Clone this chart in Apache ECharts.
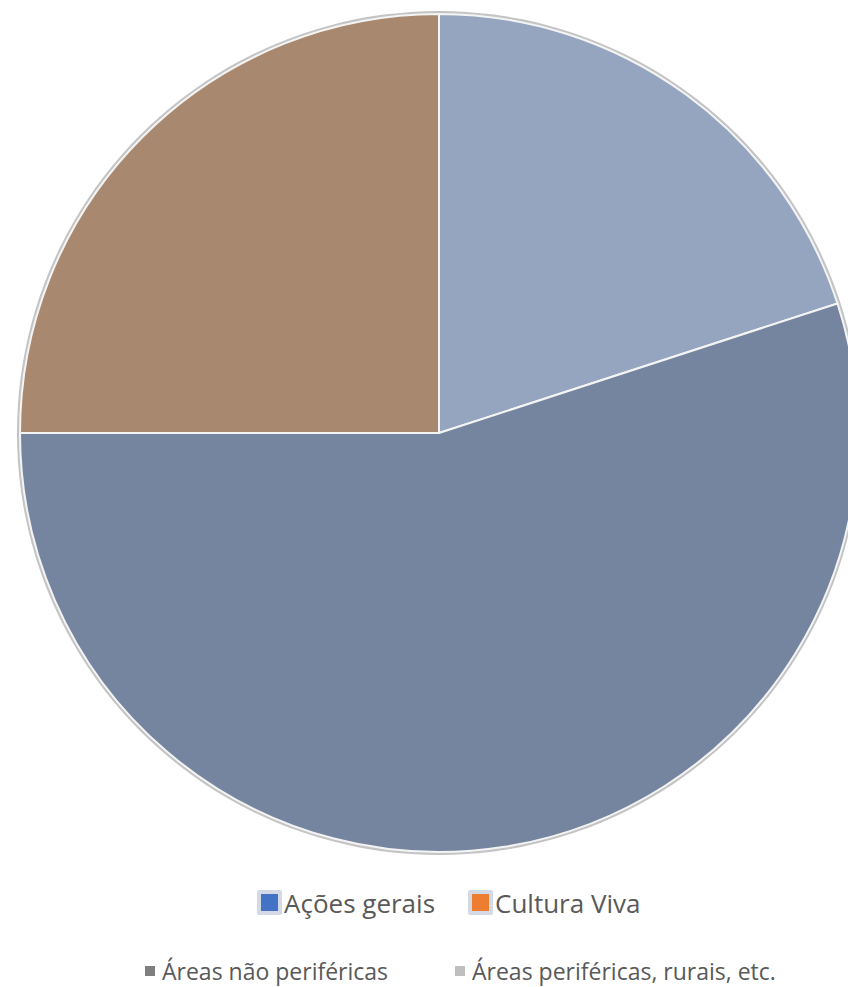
<!DOCTYPE html>
<html><head><meta charset="utf-8">
<script src="https://cdn.jsdelivr.net/npm/echarts@6/dist/echarts.min.js"></script>
<style>html,body{margin:0;padding:0;background:#fff}#c{width:848px;height:987px}</style>
</head><body><div id="c"></div>
<script>
const sliceNames = ['Fatia 1', 'Fatia 2', 'Fatia 3'];
const sliceValues = [20, 55, 25];
const sliceColors = ['#95A5C0', '#75859F', '#A8886F'];
const legendTop = ['Ações gerais', 'Cultura Viva'];
const legendTopColors = ['#4472C4', '#ED7D31'];
const legendBottom = ['Áreas não periféricas', 'Áreas periféricas, rurais, etc.'];
const legendBottomColors = ['#7F7F7F', '#BFBFBF'];

const topLeft = [257, 468];
const bottomLeft = [145, 455];

const chart = echarts.init(document.getElementById('c'), null, {renderer: 'svg'});
const dummy = legendTop.concat(legendBottom).map(n => ({
  type: 'pie', name: n, data: [], showEmptyCircle: false, radius: 0, center: [0, 0], silent: true
}));
const legends = [];
legendTop.forEach((n, i) => legends.push({
  left: topLeft[i], top: 888, padding: 0, icon: 'rect', itemWidth: 21, itemHeight: 21,
  textStyle: {fontFamily: 'Open Sans', fontSize: 26, lineHeight: 29, color: '#595959', padding: [0, 0, 0, -1]},
  data: [{name: n, itemStyle: {color: legendTopColors[i], borderColor: '#D3DAE6', borderWidth: 4}}]
}));
legendBottom.forEach((n, i) => legends.push({
  left: bottomLeft[i], top: 959, padding: 0, icon: 'rect', itemWidth: 10, itemHeight: 10,
  textStyle: {fontFamily: 'Open Sans', fontSize: 23, lineHeight: 24, color: '#595959', padding: [0, 0, 0, 2]},
  data: [{name: n, itemStyle: {color: legendBottomColors[i]}}]
}));
chart.setOption({
  animation: false,
  legend: legends,
  series: dummy.concat([
    {
      type: 'pie', name: 'borda', silent: true, center: [439, 433], radius: 422,
      label: {show: false}, z: 1, legendHoverLink: false,
      data: [{value: 1, name: ' ', itemStyle: {color: '#C4C4C4'}}]
    },
    {
      type: 'pie', name: 'dados', center: [439, 433], radius: 419, startAngle: 90, clockwise: true,
      z: 2, label: {show: false}, labelLine: {show: false},
      itemStyle: {borderColor: '#F4F4F4', borderWidth: 2},
      data: sliceNames.map((n, i) => ({name: n, value: sliceValues[i], itemStyle: {color: sliceColors[i]}}))
    }
  ])
});
</script></body></html>
